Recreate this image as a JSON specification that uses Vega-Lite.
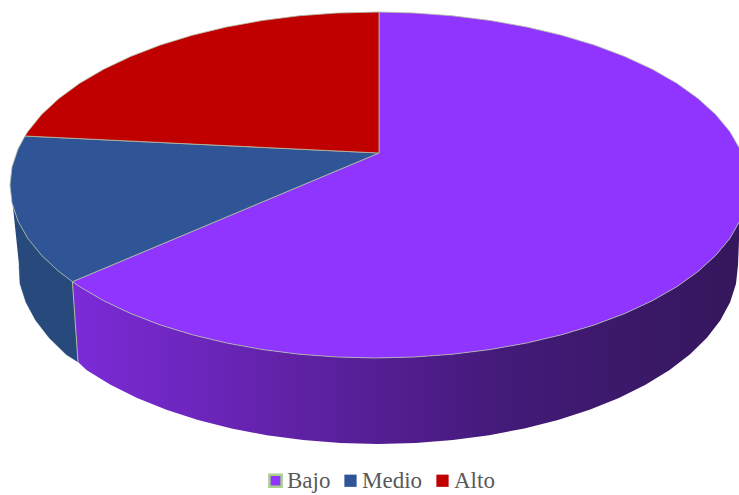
{
"$schema":"https://vega.github.io/schema/vega-lite/v6.json",
"width":739,"height":495,"padding":0,"autosize":"none","background":"white",
"config":{"view":{"stroke":null}},
"datasets":{
"wallBajo":[
{"i":0,"x":739.8,"y":221},{"i":1,"x":729.8,"y":238.5},{"i":2,"x":715.7,"y":255.4},{"i":3,"x":698,"y":271.5},{"i":4,"x":676.8,"y":286.7},{"i":5,"x":652.2,"y":300.8},{"i":6,"x":624.6,"y":313.6},{"i":7,"x":594.2,"y":325},{"i":8,"x":561.5,"y":334.8},{"i":9,"x":526.7,"y":343},{"i":10,"x":490.3,"y":349.5},{"i":11,"x":452.5,"y":354.2},{"i":12,"x":414,"y":357},{"i":13,"x":375,"y":358},{"i":14,"x":336.9,"y":357},{"i":15,"x":299.1,"y":354.2},{"i":16,"x":262.2,"y":349.5},{"i":17,"x":226.6,"y":343},{"i":18,"x":192.5,"y":334.8},{"i":19,"x":160.5,"y":325},{"i":20,"x":130.8,"y":313.6},{"i":21,"x":103.8,"y":300.8},{"i":22,"x":79.7,"y":286.7},{"i":23,"x":72.4,"y":281.7},
{"i":24,"x":78,"y":362},{"i":25,"x":86.8,"y":370.2},{"i":26,"x":110.5,"y":384.8},{"i":27,"x":137.1,"y":398},{"i":28,"x":166.4,"y":409.8},{"i":29,"x":198,"y":420},{"i":30,"x":231.6,"y":428.5},{"i":31,"x":266.8,"y":435.2},{"i":32,"x":303.2,"y":440.1},{"i":33,"x":340.4,"y":443},{"i":34,"x":378,"y":444},{"i":35,"x":415.6,"y":443},{"i":36,"x":452.8,"y":440.1},{"i":37,"x":489.2,"y":435.2},{"i":38,"x":524.4,"y":428.5},{"i":39,"x":558,"y":420},{"i":40,"x":589.6,"y":409.8},{"i":41,"x":618.9,"y":398},{"i":42,"x":645.5,"y":384.8},{"i":43,"x":669.2,"y":370.2},{"i":44,"x":689.8,"y":354.5},{"i":45,"x":706.9,"y":337.8},{"i":46,"x":720.4,"y":320.3},{"i":47,"x":730.1,"y":302.2},{"i":48,"x":736,"y":283.7},{"i":49,"x":738,"y":265}],
"wallMedio":[
{"i":0,"x":13,"y":207},{"i":1,"x":18,"y":221},{"i":2,"x":27.9,"y":238.5},{"i":3,"x":41.6,"y":255.4},{"i":4,"x":58.9,"y":271.5},{"i":5,"x":72.4,"y":281.7},{"i":6,"x":78,"y":362},{"i":7,"x":66.2,"y":354.5},{"i":8,"x":49.1,"y":337.8},{"i":9,"x":35.6,"y":320.3},{"i":10,"x":25.9,"y":302.2},{"i":11,"x":20,"y":283.7},{"i":12,"x":19,"y":265}],
"top":[
{"slice":"Bajo","i":0,"x":379,"y":153},{"slice":"Bajo","i":1,"x":379,"y":12},{"slice":"Bajo","i":2,"x":414,"y":13},{"slice":"Bajo","i":3,"x":452.5,"y":15.8},{"slice":"Bajo","i":4,"x":490.3,"y":20.5},{"slice":"Bajo","i":5,"x":526.7,"y":27},{"slice":"Bajo","i":6,"x":561.5,"y":35.2},{"slice":"Bajo","i":7,"x":594.2,"y":45},{"slice":"Bajo","i":8,"x":624.6,"y":56.4},{"slice":"Bajo","i":9,"x":652.2,"y":69.2},{"slice":"Bajo","i":10,"x":676.8,"y":83.3},{"slice":"Bajo","i":11,"x":698,"y":98.5},{"slice":"Bajo","i":12,"x":715.7,"y":114.6},{"slice":"Bajo","i":13,"x":729.8,"y":131.5},{"slice":"Bajo","i":14,"x":739.8,"y":149},{"slice":"Bajo","i":15,"x":745.9,"y":166.9},{"slice":"Bajo","i":16,"x":748,"y":185},{"slice":"Bajo","i":17,"x":745.9,"y":203.1},{"slice":"Bajo","i":18,"x":739.8,"y":221},{"slice":"Bajo","i":19,"x":729.8,"y":238.5},{"slice":"Bajo","i":20,"x":715.7,"y":255.4},{"slice":"Bajo","i":21,"x":698,"y":271.5},{"slice":"Bajo","i":22,"x":676.8,"y":286.7},{"slice":"Bajo","i":23,"x":652.2,"y":300.8},{"slice":"Bajo","i":24,"x":624.6,"y":313.6},{"slice":"Bajo","i":25,"x":594.2,"y":325},{"slice":"Bajo","i":26,"x":561.5,"y":334.8},{"slice":"Bajo","i":27,"x":526.7,"y":343},{"slice":"Bajo","i":28,"x":490.3,"y":349.5},{"slice":"Bajo","i":29,"x":452.5,"y":354.2},{"slice":"Bajo","i":30,"x":414,"y":357},{"slice":"Bajo","i":31,"x":375,"y":358},{"slice":"Bajo","i":32,"x":336.9,"y":357},{"slice":"Bajo","i":33,"x":299.1,"y":354.2},{"slice":"Bajo","i":34,"x":262.2,"y":349.5},{"slice":"Bajo","i":35,"x":226.6,"y":343},{"slice":"Bajo","i":36,"x":192.5,"y":334.8},{"slice":"Bajo","i":37,"x":160.5,"y":325},{"slice":"Bajo","i":38,"x":130.8,"y":313.6},{"slice":"Bajo","i":39,"x":103.8,"y":300.8},{"slice":"Bajo","i":40,"x":79.7,"y":286.7},{"slice":"Bajo","i":41,"x":72.4,"y":281.7},{"slice":"Bajo","i":42,"x":379,"y":153},
{"slice":"Medio","i":0,"x":379,"y":153},{"slice":"Medio","i":1,"x":72.4,"y":281.7},{"slice":"Medio","i":2,"x":58.9,"y":271.5},{"slice":"Medio","i":3,"x":41.6,"y":255.4},{"slice":"Medio","i":4,"x":27.9,"y":238.5},{"slice":"Medio","i":5,"x":18,"y":221},{"slice":"Medio","i":6,"x":12,"y":203.1},{"slice":"Medio","i":7,"x":10,"y":185},{"slice":"Medio","i":8,"x":12,"y":166.9},{"slice":"Medio","i":9,"x":18,"y":149},{"slice":"Medio","i":10,"x":25,"y":136},{"slice":"Medio","i":11,"x":379,"y":153},
{"slice":"Alto","i":0,"x":379,"y":153},{"slice":"Alto","i":1,"x":25,"y":136},{"slice":"Alto","i":2,"x":27.9,"y":131.5},{"slice":"Alto","i":3,"x":41.6,"y":114.6},{"slice":"Alto","i":4,"x":58.9,"y":98.5},{"slice":"Alto","i":5,"x":79.7,"y":83.3},{"slice":"Alto","i":6,"x":103.8,"y":69.2},{"slice":"Alto","i":7,"x":130.8,"y":56.4},{"slice":"Alto","i":8,"x":160.5,"y":45},{"slice":"Alto","i":9,"x":192.5,"y":35.2},{"slice":"Alto","i":10,"x":226.6,"y":27},{"slice":"Alto","i":11,"x":262.2,"y":20.5},{"slice":"Alto","i":12,"x":299.1,"y":15.8},{"slice":"Alto","i":13,"x":336.9,"y":13},{"slice":"Alto","i":14,"x":379,"y":12},{"slice":"Alto","i":15,"x":379,"y":153}],
"divider":[{"x":72.4,"y":281.7},{"x":78,"y":362}]
},
"encoding":{
"x":{"field":"x","type":"quantitative","axis":null,"scale":{"domain":[0,739]}},
"y":{"field":"y","type":"quantitative","axis":null,"scale":{"domain":[495,0]}}
},
"layer":[
{"data":{"name":"wallMedio"},
 "mark":{"type":"line","clip":true,"fill":"#27497C","stroke":"#27497C","strokeWidth":0.5},
 "encoding":{"order":{"field":"i"}}},
{"data":{"name":"wallBajo"},
 "mark":{"type":"line","clip":true,"strokeWidth":0.5,"stroke":null,
   "fill":{"gradient":"linear","x1":0,"x2":1,"y1":0,"y2":0,"stops":[
     {"offset":0,"color":"#7C2BD8"},{"offset":0.35,"color":"#5E21A3"},{"offset":0.65,"color":"#431A78"},{"offset":1,"color":"#34175C"}]}},
 "encoding":{"order":{"field":"i"}}},
{"data":{"name":"divider"},
 "mark":{"type":"line","stroke":"#A9BFA0","strokeWidth":1}},
{"data":{"name":"top"},
 "mark":{"type":"line","clip":true,"filled":true,"stroke":"#B4BFA8","strokeWidth":0.8,"strokeJoin":"miter"},
 "encoding":{
  "order":{"field":"i"},
  "fill":{"field":"slice","type":"nominal","sort":["Bajo","Medio","Alto"],
   "scale":{"domain":["Bajo","Medio","Alto"],"range":["#9035FF","#2F5597","#C00000"]},
   "legend":{"title":null,"orient":"none","legendX":264,"legendY":469,"direction":"horizontal","columns":3,
     "symbolType":"square","symbolSize":150,"symbolOpacity":1,"columnPadding":8,"labelOffset":0,
     "labelFont":"Liberation Serif","labelFontSize":23,"labelColor":"#595959",
     "encoding":{"symbols":{"stroke":{"value":"#A9D18E"},"strokeWidth":{"value":{"expr":"datum.value==='Bajo'?2.5:0"}}}}}}
 }}
]
}
